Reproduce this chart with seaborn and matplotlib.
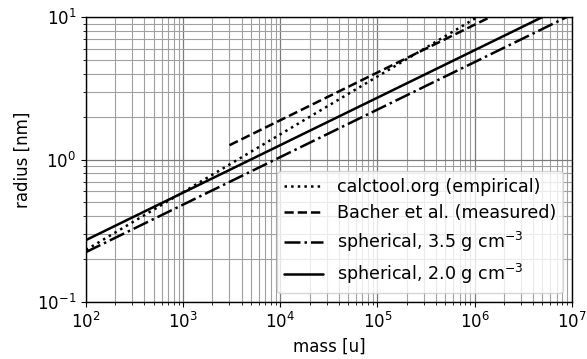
import matplotlib
matplotlib.use("Agg")
import numpy as np
import pandas as pd
import matplotlib.pyplot as plt
import seaborn as sns

# endpoints (straight lines on log-log axes)
calctool_mass = [1e2, 1.07e6]
calctool_radius = [0.232, 10.0]

bacher_mass = [3e3, 1.45e6]
bacher_radius = [1.26, 10.0]

sph35_mass = [1e2, 8.9e6]
sph35_radius = [0.224, 10.0]

sph20_mass = [1e2, 5.0e6]
sph20_radius = [0.272, 10.0]

labels = [
    "calctool.org (empirical)",
    "Bacher et al. (measured)",
    r"spherical, 3.5 g cm$^{-3}$",
    r"spherical, 2.0 g cm$^{-3}$",
]
styles = [":", "--", "-.", "-"]

sns.set_style("ticks")
plt.rcParams["font.family"] = ["DejaVu Sans"]
plt.rcParams["text.color"] = "black"
plt.rcParams["axes.labelcolor"] = "black"

fig = plt.figure(figsize=(5.87, 3.59), dpi=100)
ax = fig.add_axes([0.1465, 0.1588, 0.8275, 0.7938])

series = [
    (calctool_mass, calctool_radius),
    (bacher_mass, bacher_radius),
    (sph35_mass, sph35_radius),
    (sph20_mass, sph20_radius),
]
for (m, r), lab, ls in zip(series, labels, styles):
    df = pd.DataFrame({"mass": m, "radius": r})
    sns.lineplot(data=df, x="mass", y="radius", ax=ax, color="black",
                 linestyle=ls, linewidth=1.8, label=lab)

ax.set_xscale("log")
ax.set_yscale("log")
ax.set_xlim(1e2, 1e7)
ax.set_ylim(1e-1, 1e1)
ax.grid(True, which="major", color="#7a7a7a", linewidth=0.9)
ax.grid(True, which="minor", color="#a0a0a0", linewidth=0.8)
for s in ax.spines.values():
    s.set_color("black")
    s.set_linewidth(1.0)
ax.tick_params(which="both", colors="black", labelsize=12)

ax.set_xlabel("mass [u]", fontsize=12)
ax.set_ylabel("radius [nm]", fontsize=12)

ax.legend(loc="lower right", fontsize=12.6, handlelength=2.2,
          frameon=True, framealpha=0.8, edgecolor="#cccccc",
          labelcolor="black", labelspacing=0.45)

plt.savefig("out.png", dpi=100)
plt.close()
